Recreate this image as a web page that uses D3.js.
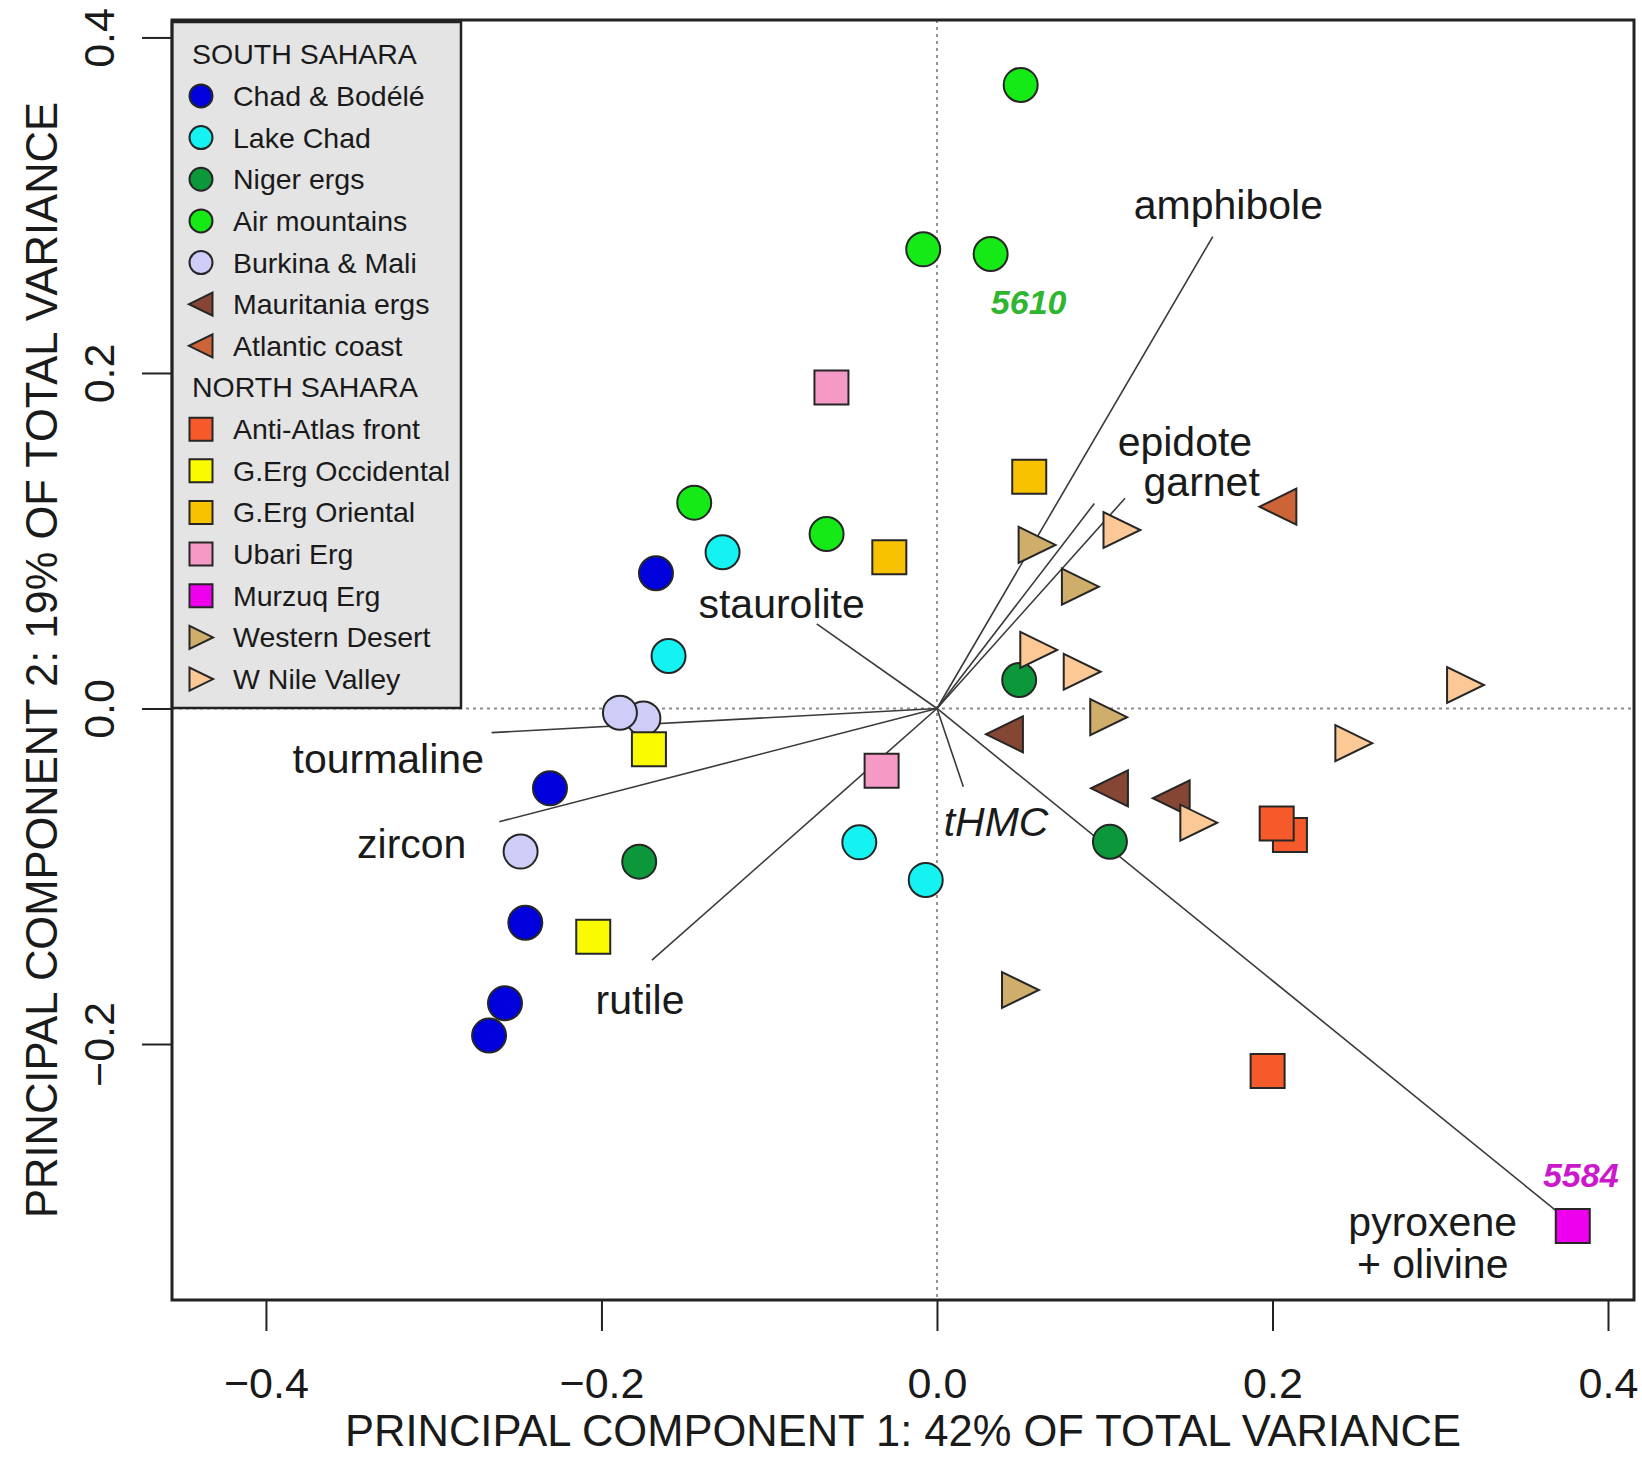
<!DOCTYPE html>
<html>
<head>
<meta charset="utf-8">
<script src="https://cdn.jsdelivr.net/npm/d3@7"></script>
<style>
  body { margin: 0; background: #fff; }
  svg text { font-family: "Liberation Sans", Arial, sans-serif; fill: #1a1a1a; }
</style>
</head>
<body>
<svg id="chart" width="1642" height="1458"></svg>
<script>
// ---- data (PC1, PC2 scores) ----
var chadBodele   = [[-0.1675, 0.0806], [-0.2307, -0.0476], [-0.2454, -0.1277], [-0.2575, -0.1757], [-0.267, -0.195]];
var lakeChad     = [[-0.1278, 0.0931], [-0.16, 0.0313], [-0.0463, -0.0798], [-0.0067, -0.1022]];
var nigerErgs    = [[0.049, 0.017], [-0.1775, -0.0913], [0.1031, -0.0794]];
var airMountains = [[0.0499, 0.3717], [-0.0082, 0.2737], [0.032, 0.2709], [-0.1447, 0.1227], [-0.0658, 0.104]];
var burkinaMali  = [[-0.175, -0.0059], [-0.189, -0.0025], [-0.2482, -0.0853]];
var mauritania   = [[0.0405, -0.0154], [0.1031, -0.0476], [0.1399, -0.0535]];
var atlantic     = [[0.2035, 0.1203]];
var antiAtlas    = [[0.2104, -0.0754], [0.2025, -0.0685], [0.1971, -0.2161]];
var ergOccid     = [[-0.1717, -0.0243], [-0.2049, -0.136]];
var ergOrient    = [[0.055, 0.1382], [-0.0284, 0.0901]];
var ubari        = [[-0.0629, 0.1914], [-0.033, -0.0371]];
var murzuq       = [[0.379, -0.3085]];
var westDesert   = [[0.0594, 0.0975], [0.0852, 0.0726], [0.1021, -0.0052], [0.0495, -0.1678]];
var nileValley   = [[0.110, 0.1064], [0.0604, 0.0349], [0.0863, 0.0219], [0.1558, -0.0681], [0.3148, 0.014], [0.2482, -0.0207]];

var groupNames  = ["Chad & Bodélé", "Lake Chad", "Niger ergs", "Air mountains", "Burkina & Mali",
                   "Mauritania ergs", "Atlantic coast", "Anti-Atlas front", "G.Erg Occidental",
                   "G.Erg Oriental", "Ubari Erg", "Murzuq Erg", "Western Desert", "W Nile Valley"];
var groupRegion = ["SOUTH SAHARA", "SOUTH SAHARA", "SOUTH SAHARA", "SOUTH SAHARA", "SOUTH SAHARA",
                   "SOUTH SAHARA", "SOUTH SAHARA", "NORTH SAHARA", "NORTH SAHARA", "NORTH SAHARA",
                   "NORTH SAHARA", "NORTH SAHARA", "NORTH SAHARA", "NORTH SAHARA"];
var groupShapes = ["circle", "circle", "circle", "circle", "circle", "left", "left",
                   "square", "square", "square", "square", "square", "right", "right"];
var groupColors = ["#0000dc", "#14f2f2", "#0c983a", "#16ea16", "#cdcdf8", "#854634", "#cc6438",
                   "#f65a2a", "#fafa00", "#f8c200", "#f49ac4", "#ee00ee", "#cfad6a", "#fbc896"];
var groupPoints = [chadBodele, lakeChad, nigerErgs, airMountains, burkinaMali, mauritania, atlantic,
                   antiAtlas, ergOccid, ergOrient, ubari, murzuq, westDesert, nileValley];

// loadings (vector tips) and where their names sit
var vecNames = ["amphibole", "epidote", "garnet", "staurolite", "tourmaline", "zircon", "rutile", "tHMC", "pyroxene\n+ olivine"];
var vecPC1   = [0.1644, 0.0938, 0.1121, -0.0717, -0.2655, -0.2609, -0.1699, 0.0157, 0.376];
var vecPC2   = [0.2813, 0.1222, 0.1253, 0.0504, -0.0144, -0.0675, -0.15, -0.0466, -0.305];
var labPC1   = [0.1737, 0.1478, 0.1578, -0.0926, -0.3271, -0.3131, -0.177, 0.0352, 0.2955];
var labPC2   = [0.3002, 0.159, 0.1355, 0.0627, -0.0297, -0.0804, -0.1738, -0.0675, -0.3059];

var xTicks = [-0.4, -0.2, 0.0, 0.2, 0.4];
var yTicks = [-0.2, 0.0, 0.2, 0.4];

// ---- layout ----
var svg = d3.select('#chart');
var x = d3.scaleLinear().domain([-0.456, 0.4155]).range([172, 1634]);
var y = d3.scaleLinear().domain([-0.3526, 0.4104]).range([1300, 20]);
var fmt = d3.format('.1f');

// zero reference lines
svg.append('line')
  .attr('x1', x(0)).attr('x2', x(0)).attr('y1', y.range()[1]).attr('y2', y.range()[0])
  .attr('stroke', '#8a8a8a').attr('stroke-width', 1.8).attr('stroke-dasharray', '3,4');
svg.append('line')
  .attr('x1', x.range()[0]).attr('x2', x.range()[1]).attr('y1', y(0)).attr('y2', y(0))
  .attr('stroke', '#8a8a8a').attr('stroke-width', 1.8).attr('stroke-dasharray', '3,4');

// loading vectors
svg.append('g').selectAll('line')
  .data(vecNames)
  .enter().append('line')
  .attr('x1', x(0)).attr('y1', y(0))
  .attr('x2', function (d, i) { return x(vecPC1[i]); })
  .attr('y2', function (d, i) { return y(vecPC2[i]); })
  .attr('stroke', '#3a3a3a').attr('stroke-width', 1.6);

// marker shapes
function shapePath(shape, s) {
  if (shape === 'square') return 'M' + (-s) + ',' + (-s) + 'h' + 2 * s + 'v' + 2 * s + 'h' + (-2 * s) + 'Z';
  if (shape === 'right') return 'M' + (-s) + ',' + (-s) + 'L' + (-s) + ',' + s + 'L' + (s * 1.05) + ',0Z';
  return 'M' + s + ',' + (-s) + 'L' + s + ',' + s + 'L' + (-s * 1.05) + ',0Z';
}

function drawMarker(sel, shape, color, s) {
  if (shape === 'circle') {
    sel.append('circle').attr('r', s).attr('fill', color)
      .attr('stroke', '#262626').attr('stroke-width', 2);
  } else {
    sel.append('path').attr('d', shapePath(shape, s)).attr('fill', color)
      .attr('stroke', '#262626').attr('stroke-width', 2).attr('stroke-linejoin', 'miter');
  }
}

// sample points
var pts = svg.append('g');
groupPoints.forEach(function (list, gi) {
  list.forEach(function (p) {
    var g = pts.append('g').attr('transform', 'translate(' + x(p[0]) + ',' + y(p[1]) + ')');
    drawMarker(g, groupShapes[gi], groupColors[gi], groupShapes[gi] === 'right' || groupShapes[gi] === 'left' ? 18 : 17);
  });
});

// vector labels
var labs = svg.append('g');
vecNames.forEach(function (name, i) {
  var lines = name.split('\n');
  lines.forEach(function (t, k) {
    labs.append('text')
      .attr('x', x(labPC1[i]))
      .attr('y', y(labPC2[i]) + k * 42)
      .attr('dy', '0.35em')
      .attr('text-anchor', 'middle')
      .attr('font-size', 41)
      .attr('font-style', name === 'tHMC' ? 'italic' : 'normal')
      .text(t);
  });
});

// sample numbers
svg.append('text')
  .attr('x', x(airMountains[2][0]) + 38).attr('y', y(airMountains[2][1]) + 48)
  .attr('dy', '0.35em').attr('text-anchor', 'middle')
  .attr('font-size', 34).attr('font-weight', 'bold').attr('font-style', 'italic')
  .style('fill', '#2fb52f').text('5610');
svg.append('text')
  .attr('x', x(murzuq[0][0]) + 8).attr('y', y(murzuq[0][1]) - 51)
  .attr('dy', '0.35em').attr('text-anchor', 'middle')
  .attr('font-size', 34).attr('font-weight', 'bold').attr('font-style', 'italic')
  .style('fill', '#cc18cc').text('5584');

// legend
var leg = svg.append('g');
leg.append('rect')
  .attr('x', 172).attr('y', 22).attr('width', 289).attr('height', 686)
  .attr('fill', '#e4e4e4').attr('stroke', '#222').attr('stroke-width', 2.5);
var rows = [];
groupNames.forEach(function (n, i) {
  if (i === 0 || groupRegion[i] !== groupRegion[i - 1]) rows.push({ header: groupRegion[i] });
  rows.push({ name: n, i: i });
});
rows.forEach(function (r, k) {
  var ry = 54.3 + k * 41.65;
  if (r.header) {
    leg.append('text').attr('x', 192).attr('y', ry).attr('dy', '0.35em')
      .attr('font-size', 28.5).text(r.header);
  } else {
    var g = leg.append('g').attr('transform', 'translate(201,' + ry + ')');
    drawMarker(g, groupShapes[r.i], groupColors[r.i], 11.5);
    leg.append('text').attr('x', 233).attr('y', ry).attr('dy', '0.35em')
      .attr('font-size', 28.5).text(r.name);
  }
});

// axes
var xAxis = svg.append('g').attr('transform', 'translate(0,1300)')
  .call(d3.axisBottom(x).tickValues(xTicks).tickSize(31).tickFormat(fmt));
xAxis.select('.domain').remove();
xAxis.selectAll('line').attr('stroke', '#222').attr('stroke-width', 2);
xAxis.selectAll('text').attr('y', 83).attr('dy', '0.35em')
  .attr('font-size', 43).attr('font-family', null).style('fill', '#1a1a1a');

var yAxis = svg.append('g').attr('transform', 'translate(172,0)')
  .call(d3.axisLeft(y).tickValues(yTicks).tickSize(30).tickFormat(fmt));
yAxis.select('.domain').remove();
yAxis.selectAll('line').attr('stroke', '#222').attr('stroke-width', 2);
yAxis.selectAll('text').attr('x', null).attr('y', null).attr('dy', '0.35em')
  .attr('transform', 'translate(-73,0) rotate(-90)')
  .attr('text-anchor', 'middle')
  .attr('font-size', 43).attr('font-family', null).style('fill', '#1a1a1a');

// plot frame
svg.append('rect')
  .attr('x', 172).attr('y', 20).attr('width', 1634 - 172).attr('height', 1280)
  .attr('fill', 'none').attr('stroke', '#222').attr('stroke-width', 3);

// axis titles
svg.append('text')
  .attr('x', (172 + 1634) / 2).attr('y', 1431).attr('dy', '0.35em')
  .attr('text-anchor', 'middle').attr('font-size', 43.5)
  .text('PRINCIPAL COMPONENT 1: 42% OF TOTAL VARIANCE');
svg.append('text')
  .attr('transform', 'translate(42,660) rotate(-90)')
  .attr('dy', '0.35em').attr('text-anchor', 'middle').attr('font-size', 43.5)
  .text('PRINCIPAL COMPONENT 2: 19% OF TOTAL VARIANCE');
</script>
</body>
</html>
